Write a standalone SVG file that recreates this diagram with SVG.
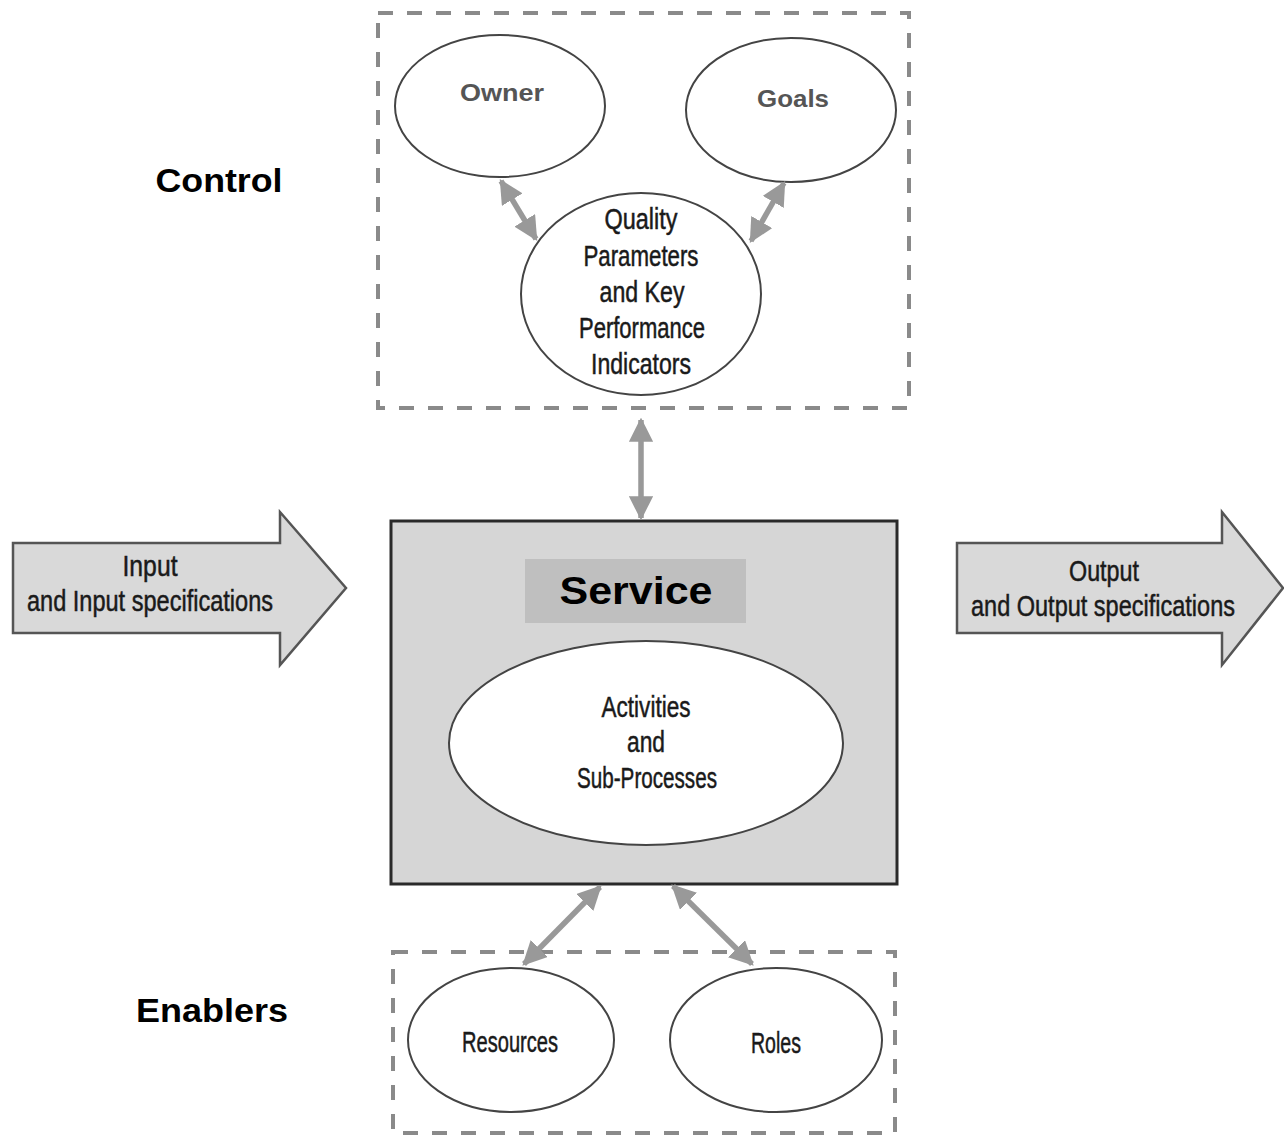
<svg xmlns="http://www.w3.org/2000/svg" width="1284" height="1136" viewBox="0 0 1284 1136">
<defs>
<style>
.dash{fill:none;stroke:#8a8a8a;stroke-width:4;stroke-dasharray:15 14}
.ell{fill:#fff;stroke:#444;stroke-width:2}
.big{font-family:"Liberation Sans",Arial,sans-serif;font-weight:bold;fill:#000}
.gb{font-family:"Liberation Sans",Arial,sans-serif;font-weight:bold;fill:#555;font-size:24px}
.cond{font-family:"Liberation Sans",Arial,sans-serif;fill:#1a1a1a;font-size:29px;stroke:#1a1a1a;stroke-width:0.5}
.conn{stroke:#999;stroke-width:5.5;fill:none;marker-start:url(#ah);marker-end:url(#ah)}
.bigarrow{fill:#d9d9d9;stroke:#555;stroke-width:2.5}
</style>
<marker id="ah" viewBox="0 0 10 10" refX="9" refY="5" markerWidth="4.4" markerHeight="4.4" orient="auto-start-reverse">
<path d="M0,0 L10,5 L0,10 Z" fill="#999"/>
</marker>
</defs>
<rect width="1284" height="1136" fill="#fff"/>

<g id="labels">
<text class="big" x="219" y="192" font-size="34" text-anchor="middle" textLength="127" lengthAdjust="spacingAndGlyphs">Control</text>
<text class="big" x="212" y="1022" font-size="34" text-anchor="middle" textLength="152" lengthAdjust="spacingAndGlyphs">Enablers</text>
</g>

<g id="control-group">
<rect class="dash" x="378" y="13" width="531" height="395"/>
</g>
<g id="enablers-group">
<rect class="dash" x="393" y="952" width="502" height="181"/>
</g>

<g id="owner">
<ellipse class="ell" cx="500" cy="106" rx="105" ry="71"/>
<text class="gb" x="502" y="101" text-anchor="middle" textLength="84" lengthAdjust="spacingAndGlyphs">Owner</text>
</g>
<g id="goals">
<ellipse class="ell" cx="791" cy="110" rx="105" ry="72"/>
<text class="gb" x="793" y="107" text-anchor="middle" textLength="72" lengthAdjust="spacingAndGlyphs">Goals</text>
</g>
<g id="quality">
<ellipse class="ell" cx="641" cy="294" rx="120" ry="101"/>
<text class="cond" x="641" y="229" text-anchor="middle" textLength="73" lengthAdjust="spacingAndGlyphs">Quality</text>
<text class="cond" x="641" y="266" text-anchor="middle" textLength="115" lengthAdjust="spacingAndGlyphs">Parameters</text>
<text class="cond" x="642" y="302" text-anchor="middle" textLength="85" lengthAdjust="spacingAndGlyphs">and  Key</text>
<text class="cond" x="642" y="338" text-anchor="middle" textLength="126" lengthAdjust="spacingAndGlyphs">Performance</text>
<text class="cond" x="641" y="374" text-anchor="middle" textLength="100" lengthAdjust="spacingAndGlyphs">Indicators</text>
</g>

<g id="input">
<path class="bigarrow" d="M13,543 L280,543 L280,512 L346,588 L280,665 L280,633 L13,633 Z"/>
<text class="cond" x="150" y="576" text-anchor="middle" textLength="55" lengthAdjust="spacingAndGlyphs">Input</text>
<text class="cond" x="150" y="611" text-anchor="middle" textLength="246" lengthAdjust="spacingAndGlyphs">and  Input  specifications</text>
</g>
<g id="output">
<path class="bigarrow" d="M957,543 L1222,543 L1222,512 L1283,588 L1222,665 L1222,633 L957,633 Z"/>
<text class="cond" x="1104" y="581" text-anchor="middle" textLength="70" lengthAdjust="spacingAndGlyphs">Output</text>
<text class="cond" x="1103" y="616" text-anchor="middle" textLength="264" lengthAdjust="spacingAndGlyphs">and  Output  specifications</text>
</g>

<g id="service">
<rect x="391" y="521" width="506" height="363" fill="#d6d6d6" stroke="#2a2a2a" stroke-width="3"/>
<rect x="525" y="559" width="221" height="64" fill="#bfbfbf"/>
<text class="big" x="636" y="604" font-size="38" text-anchor="middle" textLength="153" lengthAdjust="spacingAndGlyphs">Service</text>
</g>
<g id="activities">
<ellipse class="ell" cx="646" cy="743" rx="197" ry="102"/>
<text class="cond" x="646" y="717" text-anchor="middle" textLength="89" lengthAdjust="spacingAndGlyphs">Activities</text>
<text class="cond" x="646" y="752" text-anchor="middle" textLength="38" lengthAdjust="spacingAndGlyphs">and</text>
<text class="cond" x="647" y="788" text-anchor="middle" textLength="140" lengthAdjust="spacingAndGlyphs">Sub-Processes</text>
</g>

<g id="resources">
<ellipse class="ell" cx="511" cy="1040" rx="103" ry="72"/>
<text class="cond" x="510" y="1052" text-anchor="middle" textLength="96" lengthAdjust="spacingAndGlyphs">Resources</text>
</g>
<g id="roles">
<ellipse class="ell" cx="776" cy="1040" rx="106" ry="72"/>
<text class="cond" x="776" y="1053" text-anchor="middle" textLength="50" lengthAdjust="spacingAndGlyphs">Roles</text>
</g>

<g id="connectors">
<line class="conn" x1="501" y1="181" x2="536" y2="239"/>
<line class="conn" x1="784" y1="183" x2="751" y2="241"/>
<line class="conn" x1="641" y1="420" x2="641" y2="518"/>
<line class="conn" x1="600" y1="887" x2="524" y2="964"/>
<line class="conn" x1="673" y1="886" x2="752" y2="964"/>
</g>
</svg>
